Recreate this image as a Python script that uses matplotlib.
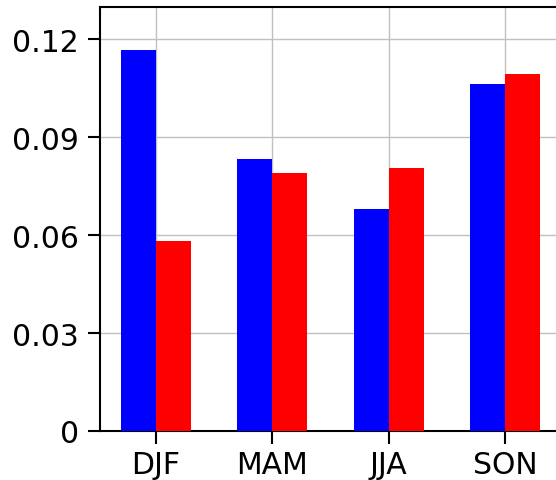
import numpy as np
import matplotlib
matplotlib.use("Agg")
import matplotlib.pyplot as plt

seasons = ["DJF", "MAM", "JJA", "SON"]
blue_vals = [0.1166, 0.0833, 0.0680, 0.1062]
red_vals = [0.0582, 0.0790, 0.0805, 0.1093]
yticks = [0, 0.03, 0.06, 0.09, 0.12]
ytick_labels = ["0", "0.03", "0.06", "0.09", "0.12"]

fig = plt.figure(figsize=(5.56, 4.81), dpi=100)
ax = fig.add_axes([100 / 556, 49 / 481, 461 / 556, 424.5 / 481])

x = np.arange(len(seasons))
w = 0.3
ax.bar(x - w / 2, blue_vals, w, color="blue", zorder=3)
ax.bar(x + w / 2, red_vals, w, color="red", zorder=3)

ax.set_xticks(x)
ax.set_xticklabels(seasons)
ax.set_yticks(yticks)
ax.set_yticklabels(ytick_labels)
ax.set_ylim(0, 0.13)
ax.set_xlim(-0.48, 3.48)

ax.grid(True, color="#c0c0c0", linewidth=1, zorder=0)
ax.set_axisbelow(True)
ax.tick_params(labelsize=21.5, length=9, width=1.5, pad=6, direction="out")
ax.tick_params(axis="x", pad=4.5)
for s in ax.spines.values():
    s.set_linewidth(1.5)

fig.savefig("out.png", dpi=100)
